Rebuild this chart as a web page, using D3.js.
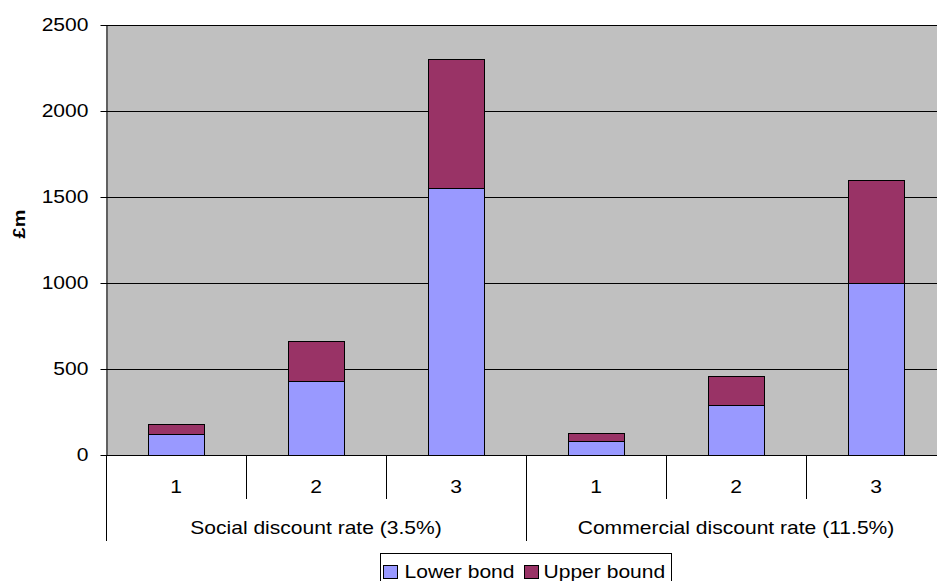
<!DOCTYPE html>
<html lang="en">
<head>
<meta charset="UTF-8">
<title>Stacked bars</title>
<script src="https://cdn.jsdelivr.net/npm/d3@7"></script>
<style>
  body { margin: 0; background: #fff; }
  text { font-family: "Liberation Sans", Arial, sans-serif; fill: #000; }
</style>
</head>
<body>
<script>
    var groups = ["Social discount rate (3.5%)", "Commercial discount rate (11.5%)"];
    var categories = ["1", "2", "3"];
    var lowerBond = [120, 430, 1550, 80, 290, 1000];
    var upperBound = [60, 230, 750, 50, 170, 600];
    var yTicks = [0, 500, 1000, 1500, 2000, 2500];
    var seriesNames = ["Lower bond", "Upper bound"];
    var colors = ["#9999ff", "#993366"];

    var width = 937, height = 581;
    var plotLeft = 106, plotRight = 946, plotTop = 25, plotBottom = 455;
    var sx = 1.17;   // text in the original is stretched sideways

    var keys = [];
    groups.forEach(function (g, gi) {
        categories.forEach(function (c) { keys.push(gi + "-" + c); });
    });

    var xScale = d3.scaleBand().domain(keys).range([plotLeft, plotRight]).padding(0);
    var yScale = d3.scaleLinear().domain([0, 2500]).range([plotBottom, plotTop]);

    var svg = d3.select("body").append("svg")
        .attr("width", width)
        .attr("height", height);

    svg.append("rect")
        .attr("x", plotLeft).attr("y", plotTop)
        .attr("width", plotRight - plotLeft).attr("height", plotBottom - plotTop)
        .attr("fill", "#c0c0c0");

    // gridlines
    svg.selectAll(".grid").data(yTicks.slice(1)).enter().append("line")
        .attr("x1", plotLeft).attr("x2", plotRight)
        .attr("y1", function (d) { return yScale(d) + 0.5; })
        .attr("y2", function (d) { return yScale(d) + 0.5; })
        .attr("stroke", "#000").attr("stroke-width", 1);

    // stacked bars
    var stackData = keys.map(function (k, i) {
        return {key: k, lower: lowerBond[i], upper: upperBound[i]};
    });
    var stack = d3.stack().keys(["lower", "upper"])(stackData);

    var bw = xScale.bandwidth();
    svg.selectAll(".series").data(stack).enter().append("g")
        .attr("fill", function (d, i) { return colors[i]; })
        .selectAll("rect").data(function (d) { return d; }).enter().append("rect")
        .attr("x", function (d) { return Math.round(xScale(d.data.key) + bw * 0.3) + 0.5; })
        .attr("width", Math.round(bw * 0.4))
        .attr("y", function (d) { return Math.round(yScale(d[1])) + 0.5; })
        .attr("height", function (d) { return Math.round(yScale(d[0])) - Math.round(yScale(d[1])); })
        .attr("stroke", "#000").attr("stroke-width", 1);

    // y axis
    var yAxis = d3.axisLeft(yScale).tickValues(yTicks).tickFormat(d3.format("d"))
        .tickSize(6).tickSizeOuter(0);
    var yGroup = svg.append("g")
        .attr("transform", "translate(" + (plotLeft + 0.5) + ",0)")
        .call(yAxis);
    yGroup.select(".domain").attr("stroke", "#000");
    yGroup.selectAll(".tick line").attr("stroke", "#000");
    yGroup.selectAll(".tick text")
        .attr("x", -15.4)
        .attr("transform", "scale(" + sx + ",1)")
        .style("font-size", "18px")
        .attr("font-family", null);

    // x axis line
    svg.append("line")
        .attr("x1", plotLeft).attr("x2", plotRight)
        .attr("y1", plotBottom + 0.5).attr("y2", plotBottom + 0.5)
        .attr("stroke", "#000");

    // category separators
    keys.forEach(function (k, i) {
        var x = Math.round(xScale(k)) + 0.5;
        var isGroupEdge = i % categories.length === 0;
        svg.append("line")
            .attr("x1", x).attr("x2", x)
            .attr("y1", plotBottom).attr("y2", isGroupEdge ? 541 : 499)
            .attr("stroke", "#000");
    });
    svg.append("line")
        .attr("x1", plotRight + 0.5).attr("x2", plotRight + 0.5)
        .attr("y1", plotBottom).attr("y2", 541)
        .attr("stroke", "#000");

    // category labels
    keys.forEach(function (k, i) {
        var cx = xScale(k) + bw / 2;
        svg.append("text")
            .attr("transform", "translate(" + cx + ",493) scale(" + sx + ",1)")
            .attr("text-anchor", "middle")
            .style("font-size", "18px")
            .text(categories[i % categories.length]);
    });

    // group labels
    groups.forEach(function (g, gi) {
        var first = xScale(gi + "-" + categories[0]);
        var last = xScale(gi + "-" + categories[categories.length - 1]) + bw;
        svg.append("text")
            .attr("transform", "translate(" + ((first + last) / 2) + ",534) scale(" + sx + ",1)")
            .attr("text-anchor", "middle")
            .style("font-size", "18px")
            .text(g);
    });

    // y axis title
    svg.append("text")
        .attr("transform", "translate(25,224) rotate(-90) scale(" + sx + ",1)")
        .attr("text-anchor", "middle")
        .style("font-size", "17px")
        .style("font-weight", "bold")
        .text("£m");

    // legend
    var legend = svg.append("g").attr("transform", "translate(380.5,553.5)");
    legend.append("rect")
        .attr("width", 291).attr("height", 34)
        .attr("fill", "#fff").attr("stroke", "#000");
    var legendX = [3, 144];
    seriesNames.forEach(function (name, i) {
        var item = legend.append("g").attr("transform", "translate(" + legendX[i] + ",0)");
        item.append("rect")
            .attr("x", 0).attr("y", 12)
            .attr("width", 14).attr("height", 13)
            .attr("fill", colors[i]).attr("stroke", "#000");
        item.append("text")
            .attr("transform", "translate(" + (i === 0 ? 21 : 19) + ",24) scale(" + sx + ",1)")
            .style("font-size", "18px")
            .text(name);
    });
</script>
</body>
</html>
